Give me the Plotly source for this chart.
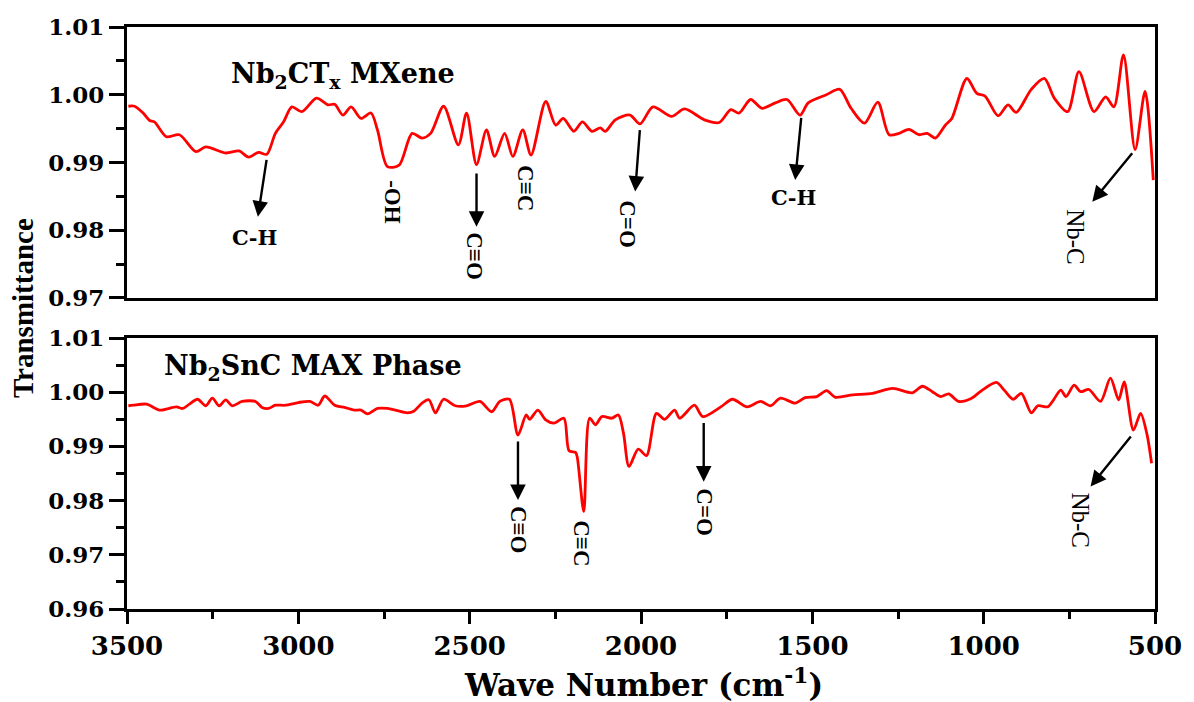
import plotly.graph_objects as go

# ---------------- data ----------------
top_wavenumber = [3496, 3478, 3453, 3434, 3420, 3385, 3347, 3299, 3270, 3212, 3173, 3145, 3116, 3092,
                  3067, 3043, 3019, 2990, 2947, 2913, 2894, 2870, 2846, 2817, 2788, 2769, 2740, 2706,
                  2668, 2639, 2614, 2576, 2533, 2509, 2480, 2451, 2427, 2398, 2374, 2345, 2321, 2278,
                  2249, 2227, 2196, 2171, 2143, 2119, 2104, 2075, 2032, 2003, 1965, 1911, 1873, 1815,
                  1772, 1738, 1714, 1680, 1647, 1608, 1574, 1536, 1512, 1459, 1420, 1387, 1348, 1309,
                  1276, 1247, 1218, 1189, 1165, 1141, 1112, 1093, 1049, 1020, 996, 958, 929, 905,
                  861, 823, 794, 755, 722, 678, 644, 620, 592, 558, 529, 505]
top_transmittance = [0.9983, 0.9983, 0.9973, 0.9962, 0.9960, 0.9938, 0.9941, 0.9916, 0.9923, 0.9914,
                     0.9917, 0.9908, 0.9915, 0.9912, 0.9943, 0.9960, 0.9982, 0.9975, 0.9995, 0.9985,
                     0.9986, 0.9970, 0.9982, 0.9965, 0.9973, 0.9948, 0.9894, 0.9896, 0.9943, 0.9936,
                     0.9943, 0.9983, 0.9926, 0.9973, 0.9897, 0.9948, 0.9909, 0.9943, 0.9909, 0.9948,
                     0.9911, 0.9990, 0.9955, 0.9965, 0.9946, 0.9960, 0.9946, 0.9951, 0.9946, 0.9963,
                     0.9970, 0.9957, 0.9982, 0.9968, 0.9979, 0.9963, 0.9959, 0.9978, 0.9973, 0.9993,
                     0.9980, 0.9988, 0.9993, 0.9970, 0.9988, 1.0000, 1.0008, 0.9980, 0.9958, 0.9989,
                     0.9941, 0.9943, 0.9949, 0.9941, 0.9943, 0.9936, 0.9955, 0.9965, 1.0024, 1.0002,
                     0.9998, 0.9969, 0.9985, 0.9974, 1.0008, 1.0024, 0.9995, 0.9975, 1.0034, 0.9975,
                     0.9997, 0.9982, 1.0059, 0.9919, 1.0005, 0.9874]

bottom_wavenumber = [3496, 3482, 3443, 3405, 3356, 3337, 3318, 3294, 3270, 3251, 3231, 3212, 3193,
                     3164, 3125, 3106, 3087, 3067, 3038, 3000, 2966, 2942, 2923, 2894, 2865, 2836,
                     2817, 2798, 2769, 2740, 2711, 2682, 2663, 2639, 2619, 2600, 2576, 2542, 2509,
                     2470, 2436, 2412, 2384, 2359, 2335, 2325, 2301, 2278, 2254, 2225, 2210, 2191,
                     2186, 2167, 2150, 2133, 2114, 2085, 2066, 2051, 2035, 2008, 1984, 1955, 1931,
                     1902, 1887, 1844, 1820, 1767, 1733, 1690, 1651, 1622, 1593, 1550, 1521, 1487,
                     1458, 1434, 1382, 1324, 1266, 1208, 1179, 1150, 1126, 1102, 1073, 1035, 1006,
                     963, 939, 914, 890, 861, 842, 813, 799, 775, 760, 736, 717, 693, 659, 630, 606,
                     590, 563, 542, 524, 510]
bottom_transmittance = [0.9975, 0.9976, 0.9978, 0.9967, 0.9973, 0.9970, 0.9978, 0.9987, 0.9975, 0.9989,
                        0.9975, 0.9986, 0.9975, 0.9983, 0.9983, 0.9972, 0.9970, 0.9976, 0.9976, 0.9981,
                        0.9983, 0.9976, 0.9993, 0.9976, 0.9972, 0.9967, 0.9967, 0.9960, 0.9970, 0.9970,
                        0.9966, 0.9962, 0.9965, 0.9980, 0.9986, 0.9962, 0.9987, 0.9975, 0.9975, 0.9983,
                        0.9964, 0.9983, 0.9987, 0.9921, 0.9958, 0.9950, 0.9967, 0.9949, 0.9943, 0.9952,
                        0.9892, 0.9889, 0.9880, 0.9780, 0.9952, 0.9940, 0.9955, 0.9952, 0.9958, 0.9924,
                        0.9863, 0.9895, 0.9883, 0.9961, 0.9950, 0.9967, 0.9952, 0.9976, 0.9955, 0.9973,
                        0.9987, 0.9973, 0.9983, 0.9975, 0.9989, 0.9980, 0.9990, 0.9992, 1.0003, 0.9991,
                        0.9995, 0.9998, 1.0007, 0.9999, 1.0011, 1.0001, 0.9992, 0.9997, 0.9983, 0.9989,
                        1.0003, 1.0018, 1.0003, 0.9987, 0.9998, 0.9962, 0.9975, 0.9973, 0.9983, 1.0004,
                        0.9992, 1.0013, 1.0001, 1.0005, 0.9983, 1.0026, 0.9986, 1.0019, 0.9930, 0.9961,
                        0.9924, 0.9869]

x_ticks = [3500, 3000, 2500, 2000, 1500, 1000, 500]
top_y_ticks = [0.97, 0.98, 0.99, 1.00, 1.01]
bottom_y_ticks = [0.96, 0.97, 0.98, 0.99, 1.00, 1.01]

top_title = "Nb<sub>2</sub>CT<sub>x</sub> MXene"
bottom_title = "Nb<sub>2</sub>SnC MAX Phase"

# arrows: (tail wavenumber, tail T, head wavenumber, head T)
top_arrows = [(3092, 0.9906, 3118, 0.9820), (2480, 0.9886, 2480, 0.9805),
              (2003, 0.9950, 2017, 0.9857), (1532, 0.9968, 1550, 0.9874),
              (563, 0.9916, 683, 0.9842)]
bottom_arrows = [(2359, 0.9912, 2359, 0.9801), (1817, 0.9946, 1817, 0.9835),
                 (567, 0.9921, 688, 0.9826)]
# labels: (text, wavenumber, T, angle, bold)
top_labels = [("C-H", 3127, 0.9789, 0, True), ("-OH", 2725, 0.9842, 90, True),
              ("C≡O", 2486, 0.9761, 90, True), ("C≡C", 2335, 0.9862, 90, True),
              ("C=O", 2038, 0.9809, 90, True), ("C-H", 1555, 0.9848, 0, True),
              ("Nb-C", 731, 0.9790, 90, False)]
bottom_labels = [("C≡O", 2359, 0.9746, 90, True), ("C≡C", 2176, 0.9722, 90, True),
                 ("C=O", 1817, 0.9779, 90, True), ("Nb-C", 717, 0.9764, 90, False)]

# ---------------- figure ----------------
RED = "#ff0000"
SERIF_W = "DejaVu Serif"
SERIF_T = "Liberation Serif"

fig = go.Figure()
fig.add_trace(go.Scatter(x=top_wavenumber, y=top_transmittance, mode="lines",
                         line=dict(color=RED, width=2.8, shape="spline", smoothing=0.8),
                         xaxis="x2", yaxis="y2", showlegend=False, hoverinfo="skip"))
fig.add_trace(go.Scatter(x=bottom_wavenumber, y=bottom_transmittance, mode="lines",
                         line=dict(color=RED, width=2.8, shape="spline", smoothing=0.8),
                         xaxis="x", yaxis="y", showlegend=False, hoverinfo="skip"))

axis_common = dict(showline=True, linewidth=3, linecolor="black", mirror=True,
                   showgrid=False, zeroline=False)

fig.update_layout(
    width=1194, height=702,
    margin=dict(l=127, r=29, t=27, b=93),
    paper_bgcolor="white", plot_bgcolor="white",
    xaxis=dict(domain=[0, 1], anchor="y", range=[3500, 500], tickvals=x_ticks,
               ticks="outside", ticklen=12, tickwidth=3, tickcolor="black",
               minor=dict(dtick=250, ticks="outside", ticklen=7, tickwidth=3, tickcolor="black"),
               tickfont=dict(family=SERIF_W, size=26, color="black", weight="bold"),
               **axis_common),
    xaxis2=dict(domain=[0, 1], anchor="y2", range=[3500, 500], matches="x",
                showticklabels=False, ticks="", **axis_common),
    yaxis=dict(domain=[0, 0.4656], anchor="x", range=[0.96, 1.01], tickvals=bottom_y_ticks,
               tickformat=".2f", ticks="outside", ticklen=15, tickwidth=3, tickcolor="black",
               minor=dict(dtick=0.005, ticks="outside", ticklen=8, tickwidth=3, tickcolor="black"),
               tickfont=dict(family=SERIF_W, size=23, color="black", weight="bold"),
               **axis_common),
    yaxis2=dict(domain=[0.5344, 1], anchor="x2", range=[0.97, 1.01], tickvals=top_y_ticks,
                tickformat=".2f", ticks="outside", ticklen=15, tickwidth=3, tickcolor="black",
                minor=dict(dtick=0.005, ticks="outside", ticklen=8, tickwidth=3, tickcolor="black"),
                tickfont=dict(family=SERIF_W, size=23, color="black", weight="bold"),
                **axis_common),
)

ann = []
# axis titles
ann.append(dict(text="Transmittance", xref="paper", yref="paper", x=-0.1012, y=0.517,
                textangle=-90, showarrow=False, xanchor="center", yanchor="middle",
                font=dict(family=SERIF_T, size=29, color="black", weight="bold")))
ann.append(dict(text="Wave Number (cm<sup>-1</sup>)", xref="paper", yref="paper", x=0.502, y=-0.127,
                showarrow=False, xanchor="center", yanchor="middle",
                font=dict(family=SERIF_W, size=31, color="black", weight="bold")))
# panel titles
ann.append(dict(text=top_title, xref="x2", yref="y2", x=3202, y=1.0029, showarrow=False,
                xanchor="left", yanchor="middle",
                font=dict(family=SERIF_W, size=27, color="black", weight="bold")))
ann.append(dict(text=bottom_title, xref="x", yref="y", x=3399, y=1.0045, showarrow=False,
                xanchor="left", yanchor="middle",
                font=dict(family=SERIF_W, size=27, color="black", weight="bold")))

for arrows, xr, yr in ((top_arrows, "x2", "y2"), (bottom_arrows, "x", "y")):
    for tx, ty, hx, hy in arrows:
        ann.append(dict(text="", x=hx, y=hy, ax=tx, ay=ty, xref=xr, yref=yr, axref=xr, ayref=yr,
                        showarrow=True, arrowhead=2, arrowsize=1.3, arrowwidth=2.4,
                        arrowcolor="black", standoff=0, startstandoff=0))

for labels, xr, yr in ((top_labels, "x2", "y2"), (bottom_labels, "x", "y")):
    for txt, wx, ty, ang, bold in labels:
        if ang == 0:
            f = dict(family=SERIF_W, size=21, color="black", weight="bold")
        else:
            f = dict(family=SERIF_T, size=25 if not bold else 23, color="black",
                     weight="bold" if bold else "normal")
        ann.append(dict(text=txt, x=wx, y=ty, xref=xr, yref=yr, showarrow=False,
                        textangle=ang, xanchor="center", yanchor="middle", font=f))

fig.update_layout(annotations=ann)
fig.write_html("out.html")
